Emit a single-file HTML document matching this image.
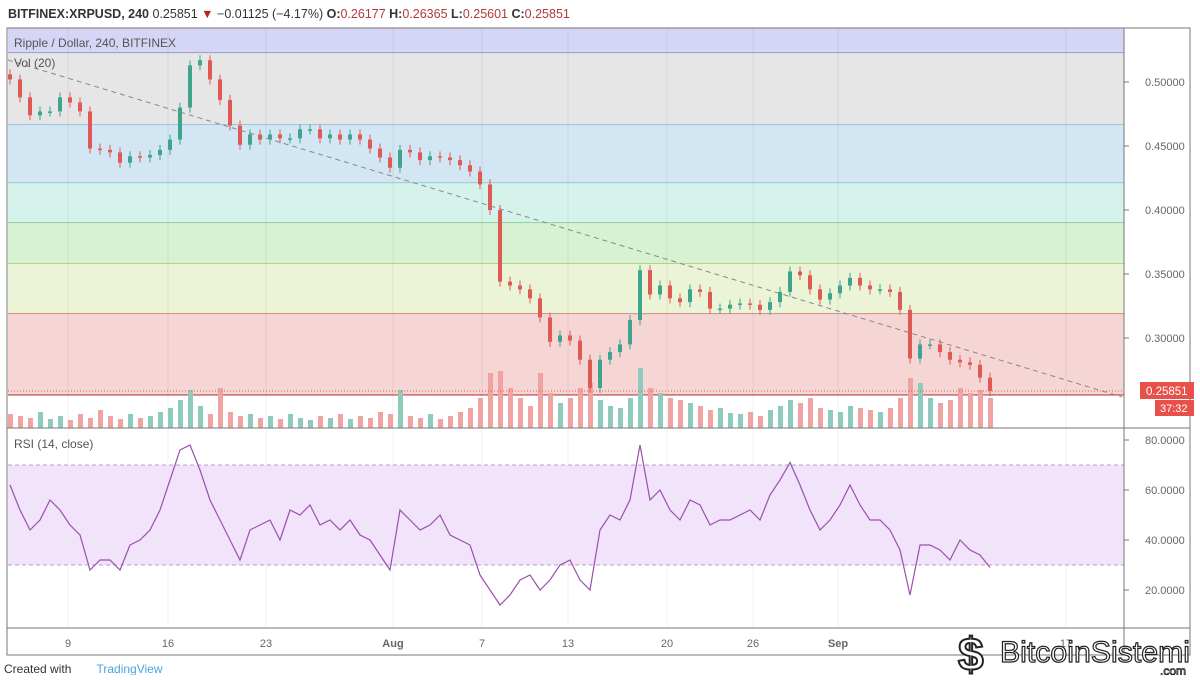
<!DOCTYPE html>
<html><head><meta charset="utf-8"><style>
body{margin:0;background:#fff;font-family:"Liberation Sans",sans-serif;}
svg text{font-family:"Liberation Sans",sans-serif;}
</style></head><body>
<svg id="c" width="1200" height="675" viewBox="0 0 1200 675">
<rect x="0" y="0" width="1200" height="675" fill="#fff"/>
<text x="8" y="18" font-size="12.5" font-weight="bold" fill="#333">BITFINEX:XRPUSD, 240 <tspan font-weight="normal">0.25851</tspan> <tspan fill="#b22" font-weight="normal">▼</tspan> <tspan font-weight="normal">−0.01125 (−4.17%)</tspan> O:<tspan fill="#b23a3a" font-weight="normal">0.26177</tspan> H:<tspan fill="#b23a3a" font-weight="normal">0.26365</tspan> L:<tspan fill="#b23a3a" font-weight="normal">0.25601</tspan> C:<tspan fill="#b23a3a" font-weight="normal">0.25851</tspan></text>
<g id="fib"></g>
<g id="grid"></g>
<g id="vol"></g>
<g id="candles"></g>
<g id="rsi"></g>
<line x1="8" y1="60" x2="1122" y2="397" stroke="#888" stroke-dasharray="5,4" stroke-width="1"/>
<line x1="8" y1="391" x2="1124" y2="391" stroke="#e06060" stroke-dasharray="1,2"/>
<rect x="7" y="28" width="1183" height="627" fill="none" stroke="#777"/>
<line x1="1124" y1="28" x2="1124" y2="655" stroke="#777"/>
<line x1="7" y1="428" x2="1190" y2="428" stroke="#777"/>
<line x1="7" y1="628" x2="1190" y2="628" stroke="#777"/>
<g id="axes"></g>
<text x="14" y="47" font-size="12" fill="#555">Ripple / Dollar, 240, BITFINEX</text>
<text x="14" y="67" font-size="12" fill="#555">Vol (20)</text>
<text x="14" y="448" font-size="12" fill="#555">RSI (14, close)</text>
<rect x="1140" y="382" width="54" height="17" fill="#e8504a"/>
<text x="1146" y="395" font-size="11.5" fill="#fff">0.25851</text>
<rect x="1155" y="400" width="39" height="16" fill="#e8504a"/>
<text x="1160" y="412" font-size="11" fill="#fff">37:32</text>
<text x="4" y="673" font-size="12" fill="#333">Created with <tspan fill="#4aa3df" dx="22">TradingView</tspan></text>
<text x="1000" y="662" font-size="30" fill="#fff" stroke="#222" stroke-width="1.2" textLength="190" lengthAdjust="spacingAndGlyphs">BitcoinSistemi</text>
<text x="1160" y="675" font-size="12" fill="#fff" stroke="#222" stroke-width="0.8">.com</text>
<text x="958" y="670" font-size="46" font-weight="bold" fill="#fff" stroke="#222" stroke-width="2">$</text>
</svg>
<script>
const closes=[.502,.488,.474,.477,.477,.488,.484,.477,.448,.447,.445,.437,.442,.441,.443,.447,.455,.480,.513,.517,.502,.486,.466,.451,.459,.455,.459,.456,.456,.463,.463,.456,.459,.455,.459,.455,.448,.441,.433,.447,.445,.439,.442,.441,.439,.435,.430,.420,.400,.344,.341,.338,.331,.316,.297,.302,.298,.283,.261,.283,.289,.295,.314,.353,.334,.341,.331,.328,.338,.336,.323,.323,.326,.327,.326,.322,.328,.336,.352,.349,.338,.330,.335,.341,.347,.341,.338,.338,.336,.322,.284,.295,.295,.289,.283,.281,.279,.269,.2585];
const rsiVals=[62,52,44,48,56,52,46,42,28,32,32,28,38,40,44,52,64,76,78,68,56,48,40,32,44,46,48,40,52,50,54,46,48,44,48,42,40,34,28,52,48,44,46,50,42,40,38,26,20,14,18,24,26,20,24,30,32,24,20,44,50,48,56,78,56,60,52,48,56,54,46,48,48,50,52,48,58,64,71,62,52,44,48,54,62,54,48,48,44,36,18,38,38,36,32,40,36,34,29];
const volumes=[14,12,10,16,9,12,8,14,10,18,12,9,14,10,12,16,20,28,38,22,14,40,16,12,14,10,12,9,14,10,8,12,10,14,9,12,10,16,14,38,12,10,14,9,12,16,20,30,55,57,40,30,22,55,35,25,30,40,45,28,22,20,30,60,40,35,30,28,25,22,18,20,15,14,16,12,18,22,28,25,30,20,18,16,22,20,18,16,20,30,50,45,30,25,28,40,35,38,30];
const priceTicks=[0.5,0.45,0.4,0.35,0.3];
const rsiTicks=[80,60,40,20];
const dayLabels=["9","16","23","Aug","7","13","20","26","Sep","17"];
const dayPos=[68,168,266,393,482,568,667,753,838,1066];
const fibLevels=[0.5226,0.4664,0.421,0.3898,0.3578,0.3187,0.2555];
const fibColors=["#d5d5f5","#e6e6e6","#d2e6f4","#d5f3ea","#d7f2d1","#ebf4d6","#f6d5d5"];
const fibLines=["#8080c0","#7ab0d0","#6cc0b0","#70c070","#a0c060","#c06060","#c06060"];
const NS="http://www.w3.org/2000/svg";
function py(p){return 82+(0.5-p)*1280;}
function ry(r){return 440+(80-r)*2.5;}
function xi(i){return 8+i*10;}
function mk(t,a,parent){const e=document.createElementNS(NS,t);for(const k in a)e.setAttribute(k,a[k]);document.getElementById(parent).appendChild(e);return e;}
let prevY=28;
for(let i=0;i<fibLevels.length;i++){const y=py(fibLevels[i]);
 const r=mk('rect',{x:8,y:prevY,width:1116,height:y-prevY,fill:fibColors[i]},'fib');
 
 
 const l=mk('line',{x1:8,y1:y,x2:1124,y2:y,stroke:fibLines[i],'stroke-width':1.3},'fib');
 
 
 prevY=y;}
const band=mk('rect',{x:8,y:ry(70),width:1116,height:ry(30)-ry(70),fill:"#f1e3fa"},'rsi');


[70,30].forEach(v=>{const l=mk('line',{x1:8,y1:ry(v),x2:1124,y2:ry(v),stroke:"#b9a0c8","stroke-dasharray":"4,3"},'rsi');
 
 });
dayPos.forEach((x,i)=>{const l=mk('line',{x1:x,y1:28,x2:x,y2:628,stroke:"#000","stroke-opacity":0.06},'grid');
 
 
 const t=mk('text',{x:x,y:647,'font-size':11,fill:'#666','text-anchor':'middle','font-weight':(dayLabels[i]=="Aug"||dayLabels[i]=="Sep")?'bold':'normal'},'axes');
 t.textContent=dayLabels[i];
 
 });
priceTicks.forEach(p=>{const t=mk('text',{x:1145,y:py(p)+4,'font-size':11,fill:'#666'},'axes');t.textContent=p.toFixed(5);
 
 
 mk('line',{x1:1124,y1:py(p),x2:1129,y2:py(p),stroke:'#777'},'axes');});
rsiTicks.forEach(r=>{const t=mk('text',{x:1145,y:ry(r)+4,'font-size':11,fill:'#666'},'axes');t.textContent=r.toFixed(4);
 
 
 mk('line',{x1:1124,y1:ry(r),x2:1129,y2:ry(r),stroke:'#777'},'axes');});
for(let i=0;i<closes.length;i++){
 const o=i?closes[i-1]:closes[0]+0.004,c=closes[i];const up=c>=o;
 const col=up?"#3fa48c":"#e05a55";
 const top=py(Math.max(o,c)),bot=py(Math.min(o,c));
 const w=mk('line',{x1:xi(i)+2,y1:top-5,x2:xi(i)+2,y2:bot+5,stroke:col},'candles');
 
 
 const b=mk('rect',{x:xi(i),y:top,width:4,height:Math.max(1.5,bot-top),fill:col},'candles');
 
 
 const v=mk('rect',{x:xi(i),y:428-volumes[i],width:5,height:volumes[i],fill:up?"#8fcbbd":"#f0a3a0"},'vol');
 
 }
let d="";rsiVals.forEach((r,i)=>{d+=(i?"L":"M")+(xi(i)+2)+" "+ry(r);});
const rl=mk('path',{d:d,fill:'none',stroke:'#9b4fae','stroke-width':1.2},'rsi');


</script>
</body></html>
